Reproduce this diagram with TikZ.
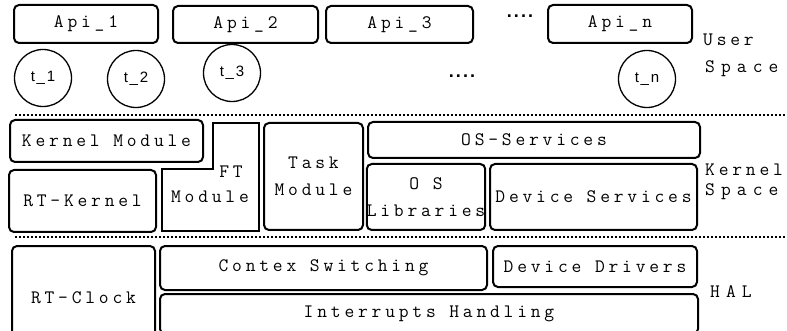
\documentclass[tikz,border=0pt]{standalone}
\usepackage{fontspec}
\newfontfamily\thrfont[LetterSpace=12]{Liberation Sans}
\newfontfamily\boxfont[LetterSpace=20]{lmmono12-regular.otf}
\newfontfamily\widefont[LetterSpace=32]{lmmono12-regular.otf}
\begin{document}
\begin{tikzpicture}[x=1pt,y=-1pt,
    box/.style={draw,line width=2pt,rounded corners=5pt,inner sep=0pt,
      font=\boxfont\fontsize{19}{27}\selectfont,align=center},
    thread/.style={draw,line width=1.3pt,circle,minimum size=57pt,inner sep=0pt,
      font=\thrfont\fontsize{15}{17}\selectfont},
    txt/.style={inner sep=0pt,font=\boxfont\fontsize{19}{27}\selectfont},
    dots/.style={inner sep=0pt,font=\thrfont\bfseries\fontsize{18}{20}\selectfont},
    side/.style={inner sep=0pt,anchor=west,font=\boxfont\fontsize{19}{20}\selectfont},
    sidew/.style={side,font=\widefont\fontsize{19}{20}\selectfont},
    sep/.style={line width=2pt,dash pattern=on 2pt off 2pt}]
        \clip (0,0) rectangle (787,331);

        \node[box,minimum width=144pt,minimum height=38pt] (api1) at (86,24) {Api\_1};
        \node[box,minimum width=145pt,minimum height=37pt] (api2) at (245.5,24.5) {Api\_2};
        \node[box,minimum width=147pt,minimum height=37pt] (api3) at (399.5,24.5) {Api\_3};
        \node[dots] (dots1) at (520,16) {....};
        \node[box,minimum width=144pt,minimum height=38pt] (apin) at (620,24) {Api\_n};

        \node[thread] (t1) at (43,78) {t\_1};
        \node[thread] (t2) at (136,79) {t\_2};
        \node[thread] (t3) at (232,73) {t\_3};
        \node[dots] (dots2) at (462,76) {....};
        \node[thread] (tn) at (647,79) {t\_n};

        \node[side] (user) at (703,40) {User};
        \node[sidew] (uspace) at (705,69) {Space};

        \coordinate (s1a) at (15,115);
        \coordinate (s1b) at (787,115);
        \draw[sep] (s1a) -- (s1b);

        \node[box,minimum width=193pt,minimum height=42pt] (kmod) at (106.5,141) {Kernel Module};
        \node[box,minimum width=147pt,minimum height=62pt] (rtk) at (82.5,201) {RT-Kernel};
        \draw[line width=2pt] (162,231) -- (162,169) -- (213,169) -- (213,123) -- (259,123) -- (259,231) -- cycle;
        \node[txt] (ft) at (231,172) {FT};
        \node[txt] (ftmod) at (210,197) {Module};
        \node[box,minimum width=99pt,minimum height=107pt] (task) at (313.5,176.5) {Task\\Module};
        \node[box,minimum width=332pt,minimum height=36pt] (oss) at (534,140) {OS-Services};
        \node[box,minimum width=114pt,minimum height=66pt] (oslib) at (426,197) {O S\\Libraries};
        \node[box,minimum width=207pt,minimum height=66pt] (devs) at (593.5,197) {Device Services};

        \node[side] (kern) at (705,170) {Kernel};
        \node[sidew] (kspace) at (705,192) {Space};

        \coordinate (s2a) at (15,237);
        \coordinate (s2b) at (787,237);
        \draw[sep] (s2a) -- (s2b);

        \node[box,minimum width=143pt,minimum height=104pt] (clk) at (83.5,298) {RT-Clock};
        \node[box,minimum width=327pt,minimum height=44pt] (ctx) at (323.5,268) {Contex Switching};
        \node[box,minimum width=204pt,minimum height=41pt] (drv) at (595,266.5) {Device Drivers};
        \node[box,minimum width=538pt,minimum height=40pt] (irq) at (429,314) {Interrupts Handling};

        \node[sidew] (hal) at (710,292) {HAL};
    \end{tikzpicture}
\end{document}
